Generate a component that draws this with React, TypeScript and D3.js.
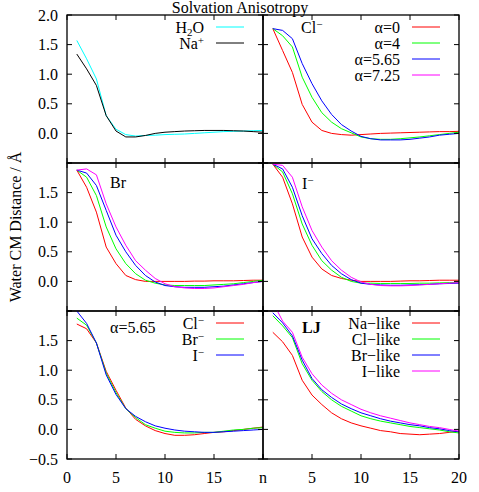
import { useEffect, useRef } from "react";
import * as d3 from "d3";

// n = number of water molecules / shell index (x axis)
const nSteps = [1, 2, 3, 4, 5, 6, 7, 8, 9, 10, 11, 12, 13, 14, 15, 16, 17, 18, 19, 20];
const xTicks = [0, 5, 10, 15, 20];
const yTicks = [-0.5, 0, 0.5, 1.0, 1.5, 2.0];

// top left: water and Na+
const h2o = [1.57, 1.26, 0.92, 0.30, 0.07, -0.02, -0.045, -0.035, -0.03, -0.02, -0.015, -0.01, 0.0, 0.01, 0.02, 0.03, 0.035, 0.04, 0.045, 0.05];
const naPlus = [1.34, 1.09, 0.81, 0.30, 0.04, -0.06, -0.06, -0.035, 0.0, 0.02, 0.03, 0.04, 0.045, 0.05, 0.05, 0.05, 0.045, 0.04, 0.03, 0.02];

// top right: Cl- for several alpha
const clA0 = [1.77, 1.40, 1.03, 0.49, 0.19, 0.05, 0.0, -0.02, -0.03, -0.02, -0.01, 0.0, 0.005, 0.01, 0.015, 0.02, 0.025, 0.03, 0.03, 0.035];
const clA4 = [1.77, 1.65, 1.46, 0.95, 0.61, 0.35, 0.19, 0.08, 0.01, -0.06, -0.09, -0.10, -0.10, -0.09, -0.075, -0.06, -0.04, -0.02, 0.0, 0.02];
const clA565 = [1.77, 1.74, 1.60, 1.18, 0.84, 0.55, 0.32, 0.15, 0.04, -0.05, -0.09, -0.11, -0.11, -0.11, -0.10, -0.08, -0.06, -0.03, -0.015, 0.0];

// middle left: Br
const brA0 = [1.88, 1.59, 1.17, 0.58, 0.30, 0.10, 0.03, 0.0, 0.0, 0.0, 0.0, 0.0, 0.005, 0.005, 0.01, 0.01, 0.01, 0.015, 0.02, 0.02];
const brA4 = [1.88, 1.76, 1.45, 0.92, 0.55, 0.30, 0.13, 0.02, -0.03, -0.06, -0.07, -0.07, -0.07, -0.07, -0.06, -0.05, -0.04, -0.02, 0.0, 0.02];
const brA565 = [1.88, 1.83, 1.62, 1.20, 0.78, 0.50, 0.27, 0.10, -0.01, -0.07, -0.09, -0.10, -0.10, -0.10, -0.09, -0.08, -0.06, -0.04, -0.02, 0.0];
const brA725 = [1.88, 1.90, 1.80, 1.31, 0.92, 0.61, 0.35, 0.19, 0.05, -0.04, -0.09, -0.11, -0.12, -0.12, -0.11, -0.09, -0.07, -0.05, -0.02, 0.0];

// middle right: I-
const iA0 = [1.98, 1.76, 1.31, 0.75, 0.41, 0.21, 0.10, 0.05, 0.02, 0.0, 0.0, 0.0, 0.0, 0.005, 0.01, 0.01, 0.015, 0.02, 0.02, 0.02];
const iA4 = [1.98, 1.85, 1.48, 0.97, 0.61, 0.35, 0.19, 0.07, 0.0, -0.03, -0.03, -0.035, -0.035, -0.035, -0.035, -0.03, -0.03, -0.025, -0.02, -0.02];
const iA565 = [1.98, 1.90, 1.59, 1.11, 0.72, 0.47, 0.27, 0.13, 0.03, -0.03, -0.05, -0.06, -0.065, -0.065, -0.06, -0.055, -0.05, -0.04, -0.035, -0.03];
const iA725 = [1.98, 1.96, 1.76, 1.26, 0.86, 0.58, 0.35, 0.19, 0.07, -0.01, -0.05, -0.07, -0.075, -0.075, -0.07, -0.06, -0.05, -0.04, -0.03, -0.02];

// bottom left: alpha = 5.65, halides
const halCl = [1.78, 1.70, 1.46, 0.98, 0.66, 0.36, 0.17, 0.06, -0.02, -0.07, -0.10, -0.10, -0.09, -0.07, -0.05, -0.04, -0.02, 0.0, 0.02, 0.04];
const halBr = [1.88, 1.76, 1.46, 0.95, 0.62, 0.35, 0.20, 0.08, 0.02, -0.03, -0.05, -0.06, -0.06, -0.05, -0.05, -0.03, -0.01, 0.0, 0.02, 0.03];
const halI = [2.0, 1.79, 1.46, 0.92, 0.59, 0.35, 0.22, 0.13, 0.06, 0.02, -0.01, -0.03, -0.04, -0.05, -0.05, -0.04, -0.03, -0.02, -0.01, 0.0];

// bottom right: LJ solutes
const ljNa = [1.64, 1.48, 1.25, 0.83, 0.58, 0.42, 0.28, 0.18, 0.11, 0.06, 0.02, -0.02, -0.04, -0.07, -0.08, -0.09, -0.08, -0.07, -0.05, -0.03];
const ljCl = [1.92, 1.75, 1.55, 1.11, 0.83, 0.64, 0.50, 0.39, 0.31, 0.23, 0.18, 0.14, 0.11, 0.08, 0.05, 0.03, 0.01, -0.01, -0.04, -0.06];
const ljBr = [1.97, 1.80, 1.58, 1.17, 0.86, 0.67, 0.54, 0.43, 0.35, 0.28, 0.23, 0.18, 0.14, 0.11, 0.08, 0.06, 0.03, 0.01, -0.02, -0.04];
const ljI = [2.15, 1.83, 1.64, 1.22, 0.94, 0.75, 0.61, 0.50, 0.42, 0.34, 0.28, 0.23, 0.19, 0.15, 0.11, 0.08, 0.05, 0.03, 0.0, -0.03];

const alphaNames = ["α=0", "α=4", "α=5.65", "α=7.25"];
const ionNames = ["Cl^−", "Br^−", "I^−"];
const ljNames = ["Na−like", "Cl−like", "Br−like", "I−like"];

const RED = "#ff0000", GREEN = "#00ff00", BLUE = "#0000ff", MAGENTA = "#ff00ff";

const panels = [
  { col: 0, row: 0, label: "", lx: 0, ly: 0, bold: false,
    series: [h2o, naPlus], colors: ["#00ffff", "#000000"], legend: ["H_2O", "Na^+"],
    yLabels: [0, 0.5, 1.0, 1.5, 2.0], xLabels: [] as number[] },
  { col: 1, row: 0, label: "Cl^−", lx: 38, ly: 18, bold: false,
    series: [clA0, clA4, clA565], colors: [RED, GREEN, BLUE, MAGENTA], legend: alphaNames,
    yLabels: [], xLabels: [] },
  { col: 0, row: 1, label: "Br", lx: 43, ly: 25, bold: false,
    series: [brA0, brA4, brA565, brA725], colors: [RED, GREEN, BLUE, MAGENTA], legend: [],
    yLabels: [0, 0.5, 1.0, 1.5], xLabels: [] },
  { col: 1, row: 1, label: "I^−", lx: 39, ly: 26, bold: false,
    series: [iA0, iA4, iA565, iA725], colors: [RED, GREEN, BLUE, MAGENTA], legend: [],
    yLabels: [], xLabels: [] },
  { col: 0, row: 2, label: "α=5.65", lx: 43, ly: 22, bold: false,
    series: [halCl, halBr, halI], colors: [RED, GREEN, BLUE], legend: ionNames,
    yLabels: [-0.5, 0, 0.5, 1.0, 1.5], xLabels: [0, 5, 10, 15] },
  { col: 1, row: 2, label: "LJ", lx: 39, ly: 22, bold: true,
    series: [ljNa, ljCl, ljBr, ljI], colors: [RED, GREEN, BLUE, MAGENTA], legend: ljNames,
    yLabels: [], xLabels: [5, 10, 15, 20] },
];

const margin = { top: 15, left: 67 };
const panelW = 196;
const panelH = 148;
const W = 479, H = 492;
const font = "'Liberation Serif', 'Times New Roman', serif";

// gnuplot style enhanced text: ^x superscript, _x subscript
function richText(sel, str) {
  let i = 0;
  let shift = 0;
  while (i < str.length) {
    const c = str[i];
    if ((c === "^" || c === "_") && i + 1 < str.length) {
      const dy = c === "^" ? -5 : 3;
      sel.append("tspan").attr("dy", dy).attr("font-size", 11).text(str[i + 1]);
      shift += dy;
      i += 2;
    } else {
      let j = i;
      while (j < str.length && str[j] !== "^" && str[j] !== "_") j++;
      sel.append("tspan").attr("dy", -shift).text(str.slice(i, j));
      shift = 0;
      i = j;
    }
  }
}

export default function App() {
  const svgRef = useRef(null);

  useEffect(() => {
    const svg = d3.select(svgRef.current);
    const fmt = d3.format(".1f");

    panels.forEach((p, pi) => {
      const x0 = margin.left + p.col * panelW;
      const y0 = margin.top + p.row * panelH;
      const x = d3.scaleLinear().domain([0, 20]).range([0, panelW]);
      const y = d3.scaleLinear().domain([-0.5, 2.0]).range([panelH, 0]);
      const g = svg.append("g").attr("transform", `translate(${x0},${y0})`);

      g.append("clipPath").attr("id", `clip${pi}`)
        .append("rect").attr("width", panelW).attr("height", panelH);

      const line = d3.line<number>()
        .x((_, i) => x(nSteps[i]))
        .y((d) => y(d));

      g.append("g").attr("clip-path", `url(#clip${pi})`)
        .selectAll("path")
        .data(p.series)
        .join("path")
        .attr("d", (d) => line(d))
        .attr("fill", "none")
        .attr("stroke", (_, i) => p.colors[i])
        .attr("stroke-width", 1);

      // inward ticks on all four sides
      const tl = 5;
      g.selectAll(".yt").data(yTicks).join("path")
        .attr("d", (d) => `M0,${y(d)}h${tl}M${panelW},${y(d)}h${-tl}`)
        .attr("stroke", "#000");
      g.selectAll(".xt").data(xTicks).join("path")
        .attr("d", (d) => `M${x(d)},0v${tl}M${x(d)},${panelH}v${-tl}`)
        .attr("stroke", "#000");

      g.append("rect")
        .attr("width", panelW).attr("height", panelH)
        .attr("fill", "none").attr("stroke", "#000").attr("stroke-width", 1.3);

      // tick labels
      g.selectAll(".yl").data(p.yLabels).join("text")
        .attr("x", -9).attr("y", (d) => y(d) + 5.5)
        .attr("text-anchor", "end").attr("font-family", font).attr("font-size", 16)
        .text((d) => fmt(d));
      g.selectAll(".xl").data(p.xLabels).join("text")
        .attr("x", (d) => x(d)).attr("y", panelH + 24)
        .attr("text-anchor", "middle").attr("font-family", font).attr("font-size", 16)
        .text((d) => d);

      // panel label
      if (p.label) {
        const t = g.append("text").attr("x", p.lx).attr("y", p.ly)
          .attr("font-family", font).attr("font-size", 16)
          .attr("font-weight", p.bold ? "bold" : "normal");
        richText(t, p.label);
      }

      // legend
      p.legend.forEach((name, k) => {
        const ry = 12 + 16 * k;
        const t = g.append("text").attr("x", 137).attr("y", ry + 5.5)
          .attr("text-anchor", "end").attr("font-family", font).attr("font-size", 16);
        richText(t, name);
        g.append("line").attr("x1", 149).attr("x2", 177).attr("y1", ry).attr("y2", ry)
          .attr("stroke", p.colors[k]).attr("stroke-width", 1);
      });
    });

    // x axis label sits where the left panel's "20" would be
    svg.append("text")
      .attr("x", margin.left + panelW).attr("y", margin.top + 3 * panelH + 24)
      .attr("text-anchor", "middle").attr("font-family", font).attr("font-size", 16)
      .text("n");

    svg.append("text")
      .attr("x", 240).attr("y", 13)
      .attr("text-anchor", "middle").attr("font-family", font).attr("font-size", 16)
      .text("Solvation Anisotropy");

    svg.append("text")
      .attr("transform", "translate(21,227) rotate(-90)")
      .attr("text-anchor", "middle").attr("font-family", font).attr("font-size", 16)
      .text("Water CM Distance / Å");

    return () => svg.selectAll("*").remove();
  }, []);

  return (
    <svg ref={svgRef} width={W} height={H}
      style={{ position: "absolute", left: 0, top: 0, background: "#fff" }} />
  );
}
